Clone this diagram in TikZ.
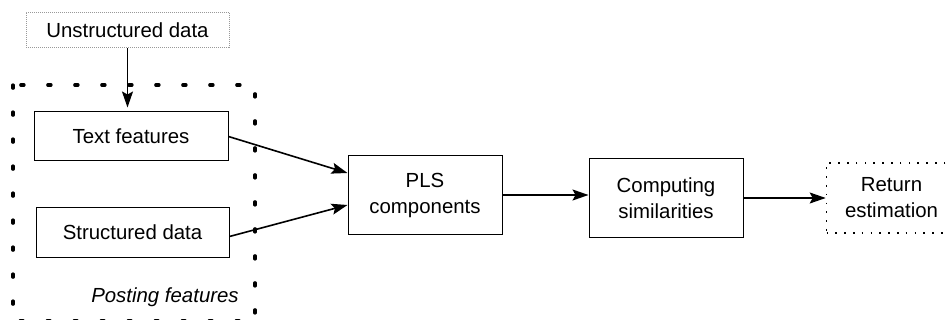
\documentclass[tikz,border=0pt]{standalone}
\usepackage{fontspec}
\setmainfont{Liberation Sans}
\usetikzlibrary{arrows.meta}

\begin{document}
\begin{tikzpicture}[
				x = 0.5pt, y = -0.5pt,
				every node/.style = {font = \fontsize{10.2}{13}\selectfont, inner sep = 0pt, align = center},
				blk/.style = {draw, line width = 0.5pt, minimum width = 97pt, minimum height = 24.5pt},
				bigblk/.style = {blk, minimum width = 77pt, minimum height = 39pt},
				arr/.style = {-{Stealth[length = 8pt, width = 5.5pt, inset = 1.5pt]}, line width = 0.8pt}
				]
				\useasboundingbox (0,0) rectangle (946,320);
				\draw [line width = 1.6pt, line cap = round, dash pattern = on 1.6pt off 11.9pt] (13,85) rectangle (255,321);
				\node [font = \fontsize{10.2}{13}\selectfont\itshape] (postlbl) at (165,297) {Posting features};

				\node [draw = gray!80, line width = 0.5pt, dash pattern = on 0.5pt off 0.5pt, minimum width = 101.5pt, minimum height = 17.5pt] (unstruct) at (127.5,30) {Unstructured data};
				\node [blk] (textf) at (131,136.5) {Text features};
				\node [blk, minimum width = 96.5pt] (structd) at (132.5,232.5) {Structured data};
				\node [bigblk] (pls) at (425,195) {PLS\\components};
				\node [bigblk] (comp) at (666,198) {Computing\\similarities};
				\node [draw, line width = 0.8pt, dash pattern = on 0.8pt off 3.6pt, minimum width = 65pt, minimum height = 35pt] (ret) at (891.5,198) {Return\\estimation};

				\draw [arr, shorten > = 2pt] (unstruct.south) -- (unstruct.south |- textf.north);
				\draw [arr] (textf.east) -- ([yshift = 11pt]pls.west);
				\draw [arr] ([yshift = -2pt]structd.east) -- ([yshift = -5pt]pls.west);
				\draw [arr] (pls.east) -- (pls.east -| comp.west);
				\draw [arr] (comp.east) -- (ret.west);
			\end{tikzpicture}
\end{document}
